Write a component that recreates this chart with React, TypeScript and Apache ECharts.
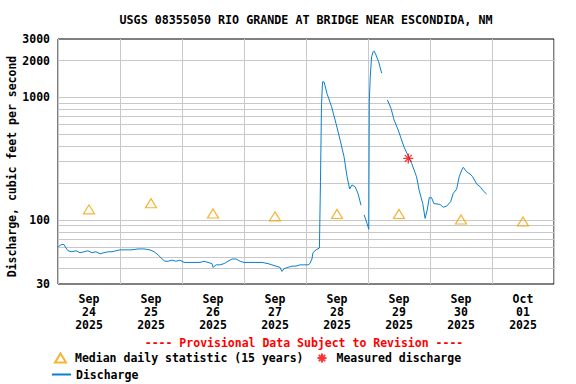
import React, { useEffect, useRef } from "react";
import * as echarts from "echarts";

const FONT = "'DejaVu Sans Mono', 'Liberation Mono', monospace";

const titleText = "USGS 08355050 RIO GRANDE AT BRIDGE NEAR ESCONDIDA, NM";
const yAxisTitle = "Discharge, cubic feet per second";
const provisionalText = "---- Provisional Data Subject to Revision ----";

// x axis: hours since 2025-09-24 00:00
const dayTickHours = [12, 36, 60, 84, 108, 132, 156, 180];
const dayTickLabels = [
  "Sep\n24\n2025",
  "Sep\n25\n2025",
  "Sep\n26\n2025",
  "Sep\n27\n2025",
  "Sep\n28\n2025",
  "Sep\n29\n2025",
  "Sep\n30\n2025",
  "Oct\n01\n2025",
];

const yLabelValues = [30, 100, 1000, 2000, 3000];
const yGridValues = [40, 50, 60, 70, 80, 90, 100, 200, 300, 400, 500, 600, 700, 800, 900, 1000, 2000];

// Discharge (cfs); null = gap in record
const dischargeHours = [
  0, 0.8, 1.5, 2.3, 3.1, 3.9, 5.4, 7.0, 8.5, 10.1, 11.6, 13.2, 14.7, 16.3, 17.8, 19.4, 20.9, 22.4,
  24.0, 26.3, 28.6, 31.0, 33.3, 35.6, 37.2, 38.7, 40.3, 41.4, 42.6, 44.1, 45.7, 47.2, 48.8, 50.3,
  51.9, 53.4, 55.0, 56.5, 58.1, 59.6, 60.0, 61.2, 62.7, 64.3, 65.8, 67.4, 68.9, 70.5, 72.0, 74.3,
  76.6, 79.0, 81.3, 82.8, 84.4, 85.9, 86.7, 87.5, 89.0, 90.6, 92.1, 93.7, 95.2, 96.8, 97.5, 98.3,
  98.7, 99.9, 101.2, 101.6, 102.0, 102.4, 103.0, 104.1, 105.9, 107.6, 109.2, 110.7, 111.9, 112.9,
  113.8, 115.0, 116.1, 117.3, 117.9, 118.5, 119.6, 120.3, 120.5, 120.9, 121.4, 122.0, 122.3, 123.1,
  124.1, 125.3, 126.4, 127.5, 128.9, 130.1, 131.7, 133.9, 136.9, 138.8, 139.8, 141.2, 142.1, 142.9,
  143.7, 144.6, 145.5, 147.9, 149.1, 150.5, 152.0, 153.0, 154.3, 155.3, 156.3, 156.9, 158.2, 159.5,
  160.5, 162.1, 163.4, 164.6, 165.9,
];
const dischargeValues: (number | null)[] = [
  60, 62, 63, 63, 59, 56, 55, 56, 54, 55, 56, 54, 55, 53, 54, 55, 55, 56,
  57, 57, 57, 58, 58, 57, 55, 52, 48, 46, 46, 47, 46, 47, 45, 45,
  45, 45, 45, 46, 45, 44, 41, 43, 43, 44, 46, 48, 48, 46, 45, 45,
  45, 45, 44, 43, 42, 41, 38, 40, 41, 42, 42, 43, 43, 43, 44, 48,
  54, 57, 59, 205, 870, 1340, 1340, 1080, 840, 615, 450, 330, 225, 179,
  193, 187, 165, 132, null, 110, 94, 84, 923, 1524, 2150, 2365, 2400, 2220,
  1960, 1575, null, 954, 815, 655, 542, 396, 289, 225, 175, 136, 103, 120,
  152, 152, 136, 134, 127, 130, 141, 165, 178, 225, 256, 269, 247, 237,
  225, 196, 187, 173, 163,
];

const medianHours = [12, 36, 60, 84, 108, 132, 156, 180];
const medianValues = [122, 137, 113, 107, 112, 112, 101, 97];

const measuredHours = [135.6];
const measuredValues = [318];

const ASTERISK = "path://M5,0L5,10M0,5L10,5M1.5,1.5L8.5,8.5M1.5,8.5L8.5,1.5";

export default function App() {
  const ref = useRef<HTMLDivElement>(null);
  useEffect(() => {
    if (!ref.current) return;
    const chart = echarts.init(ref.current, undefined, { renderer: "svg" });
    const discharge = dischargeHours.map((h, i) => [h, dischargeValues[i] === null ? "-" : dischargeValues[i]]);
    const median = medianHours.map((h, i) => [h, medianValues[i]]);
    const measured = measuredHours.map((h, i) => [h, measuredValues[i]]);
    const labelStyle = { fontFamily: FONT, fontWeight: "bold" as const, fontSize: 11.5, color: "#000" };
    chart.setOption({
      animation: false,
      backgroundColor: "#fff",
      grid: {
        left: 58,
        right: 22,
        top: 39,
        bottom: 100,
        containLabel: false,
        show: true,
        borderColor: "#000",
        borderWidth: 1,
        backgroundColor: "transparent",
      },
      xAxis: {
        type: "value",
        min: 0,
        max: 192,
        interval: 24,
        axisLine: { show: false },
        axisTick: { show: false },
        splitLine: { show: true, lineStyle: { color: "#c8c8c8", width: 1 } },
        axisLabel: {
          ...labelStyle,
          customValues: dayTickHours,
          margin: 8,
          lineHeight: 13,
          formatter: (v: number) => {
            const i = dayTickHours.indexOf(Math.round(v));
            return i >= 0 ? dayTickLabels[i] : "";
          },
        },
      },
      yAxis: {
        type: "log",
        logBase: 10,
        min: yLabelValues[0],
        max: yLabelValues[yLabelValues.length - 1],
        axisLine: { show: false },
        axisTick: { show: false, customValues: yGridValues },
        splitLine: { show: true, lineStyle: { color: "#c8c8c8", width: 1 } },
        minorSplitLine: { show: false },
        axisLabel: {
          ...labelStyle,
          customValues: [30.0001, 100, 1000, 2000, 2999.99],
          margin: 8,
          formatter: (v: number) => String(Math.round(v)),
        },
      },
      legend: [
        {
          data: ["Median daily statistic (15 years)", "Measured discharge"],
          left: 54,
          top: 352,
          orient: "horizontal",
          itemWidth: 11,
          itemHeight: 9,
          itemGap: 13,
          selectedMode: false,
          padding: 0,
          textStyle: { ...labelStyle, padding: [0, 0, 0, 4] },
        },
        {
          data: ["Discharge"],
          left: 51,
          top: 368.5,
          itemWidth: 19,
          itemHeight: 9,
          selectedMode: false,
          padding: 0,
          itemStyle: { opacity: 0 },
          lineStyle: { opacity: 1 },
          textStyle: { ...labelStyle },
        },
      ],
      graphic: [
        {
          type: "text",
          x: 306,
          y: 20,
          style: {
            text: titleText,
            font: `bold 11.7px ${FONT}`,
            fill: "#000",
            textAlign: "center",
            textVerticalAlign: "middle",
          },
        },
        {
          type: "text",
          x: 12,
          y: 166.5,
          rotation: Math.PI / 2,
          style: {
            text: yAxisTitle,
            font: `bold 11.5px ${FONT}`,
            fill: "#000",
            textAlign: "center",
            textVerticalAlign: "middle",
          },
        },
        {
          type: "text",
          x: 304,
          y: 343,
          style: {
            text: provisionalText,
            font: `bold 11.5px ${FONT}`,
            fill: "#ff0000",
            textAlign: "center",
            textVerticalAlign: "middle",
          },
        },
      ],
      series: [
        {
          name: "Discharge",
          type: "line",
          data: discharge,
          symbol: "none",
          connectNulls: false,
          lineStyle: { color: "#0a7fcf", width: 1 },
          itemStyle: { color: "#0a7fcf" },
          z: 3,
        },
        {
          name: "Median daily statistic (15 years)",
          type: "scatter",
          data: median,
          symbol: "triangle",
          symbolSize: [11, 9],
          itemStyle: { color: "rgba(255,255,255,0)", borderColor: "#f5a000", borderWidth: 1.2 },
          z: 4,
        },
        {
          name: "Measured discharge",
          type: "scatter",
          data: measured,
          symbol: ASTERISK,
          symbolSize: 10,
          itemStyle: { color: "rgba(255,255,255,0)", borderColor: "#ff0000", borderWidth: 1.3 },
          z: 5,
        },
      ],
    });
    return () => chart.dispose();
  }, []);
  return (
    <div
      ref={ref}
      style={{ position: "fixed", left: 0, top: 0, width: 576, height: 384, background: "#fff" }}
    />
  );
}
